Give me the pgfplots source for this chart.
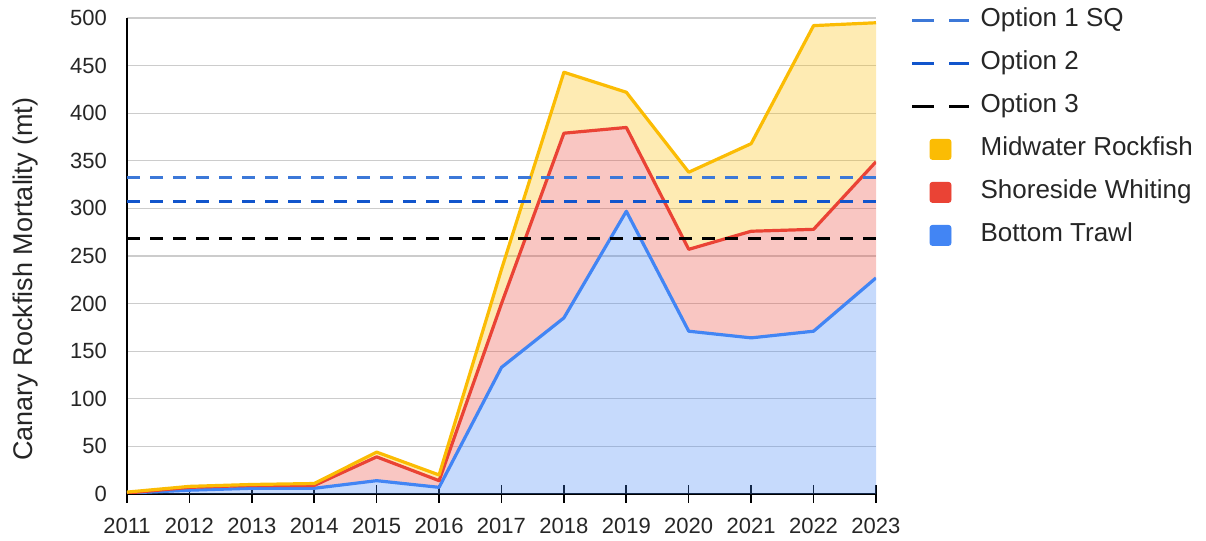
\documentclass[border=0pt]{standalone}
\usepackage{fontspec}
\setmainfont{Liberation Sans}
\usepackage{pgfplots}
\pgfplotsset{compat=1.18}
\usepgfplotslibrary{fillbetween}
\definecolor{cBlue}{HTML}{4285F4}
\definecolor{cRed}{HTML}{EA4335}
\definecolor{cYel}{HTML}{FBBC04}
\definecolor{cOpt1}{HTML}{3C78D8}
\definecolor{cOpt2}{HTML}{1155CC}
\definecolor{cGrid}{HTML}{CCCCCC}
\begin{document}
\begin{tikzpicture}
\begin{axis}[
  scale only axis,
  width=374.5pt, height=238pt,
  xmin=2011, xmax=2023, ymin=0, ymax=500,
  xtick={2011,...,2023},
  ytick={0,50,...,500},
  /pgf/number format/1000 sep={},
  /pgf/number format/assume math mode=true,
  axis x line*=bottom, axis y line*=left,
  axis line style={black, line width=1pt},
  x axis line style={-}, y axis line style={-},
  tick align=center,
  xtick style={black, line width=0.8pt},
  ytick style={draw=none},
  major tick length=9pt,
  ymajorgrids,
  grid style={cGrid, line width=0.6pt},
  tick label style={font=\fontsize{11pt}{12pt}\selectfont, text=black!85},
  xticklabel style={yshift=-4pt},
  yticklabel style={xshift=-2pt},
  ylabel={Canary Rockfish Mortality (mt)},
  ylabel style={font=\fontsize{13.5pt}{15pt}\selectfont, text=black!85, yshift=9pt, xshift=-11.5pt},
  legend style={at={(1,1)}, xshift=14pt, yshift=7pt, anchor=north west, draw=none, fill=none,
    font=\fontsize{13pt}{15pt}\selectfont, text=black!85,
    row sep=9.5pt, nodes={inner sep=0pt, text height=9pt, text depth=3pt}},
  legend cell align=left,
]
\pgfplotsset{
  lineimg/.style={legend image code/.code={\draw[##1] (0pt,0pt) -- (28.5pt,0pt);}},
  sqimg/.style={legend image code/.code={\fill[##1, rounded corners=1.2pt] (9pt,-5pt) rectangle (19.5pt,5pt);}},
}
\addlegendimage{cOpt1, line width=1.6pt, dash pattern=on 11pt off 7.5pt, lineimg}
\addlegendentry{\hspace{5pt}Option 1 SQ}
\addlegendimage{cOpt2, line width=1.6pt, dash pattern=on 11pt off 7.5pt, lineimg}
\addlegendentry{\hspace{5pt}Option 2}
\addlegendimage{black, line width=1.6pt, dash pattern=on 11pt off 7.5pt, lineimg}
\addlegendentry{\hspace{5pt}Option 3}
\addlegendimage{cYel, sqimg}
\addlegendentry{\hspace{5pt}Midwater Rockfish}
\addlegendimage{cRed, sqimg}
\addlegendentry{\hspace{5pt}Shoreside Whiting}
\addlegendimage{cBlue, sqimg}
\addlegendentry{\hspace{5pt}Bottom Trawl}

\addplot[draw=none, name path=Z, forget plot] coordinates {(2011,0) (2023,0)};
\addplot[draw=none, name path=B, forget plot] coordinates {
(2011,1) (2012,4) (2013,6) (2014,6) (2015,14) (2016,7) (2017,133)
(2018,185) (2019,297) (2020,171) (2021,164) (2022,171) (2023,227)};
\addplot[draw=none, name path=R, forget plot] coordinates {
(2011,1) (2012,7) (2013,9) (2014,9) (2015,39) (2016,14) (2017,200)
(2018,379) (2019,385) (2020,257) (2021,276) (2022,278) (2023,349)};
\addplot[draw=none, name path=Y, forget plot] coordinates {
(2011,2) (2012,8) (2013,10) (2014,11) (2015,44) (2016,20) (2017,236)
(2018,443) (2019,422) (2020,338) (2021,368) (2022,492) (2023,495)};
\addplot[cBlue, fill opacity=0.3, draw=none, forget plot] fill between[of=B and Z];
\addplot[cRed, fill opacity=0.3, draw=none, forget plot] fill between[of=R and B];
\addplot[cYel, fill opacity=0.3, draw=none, forget plot] fill between[of=Y and R];

\addplot[cBlue, line width=1.6pt, line join=round, forget plot] coordinates {
(2011,1) (2012,4) (2013,6) (2014,6) (2015,14) (2016,7) (2017,133)
(2018,185) (2019,297) (2020,171) (2021,164) (2022,171) (2023,227)};
\addplot[cRed, line width=1.6pt, line join=round, forget plot] coordinates {
(2011,1) (2012,7) (2013,9) (2014,9) (2015,39) (2016,14) (2017,200)
(2018,379) (2019,385) (2020,257) (2021,276) (2022,278) (2023,349)};
\addplot[cYel, line width=1.6pt, line join=round, forget plot] coordinates {
(2011,2) (2012,8) (2013,10) (2014,11) (2015,44) (2016,20) (2017,236)
(2018,443) (2019,422) (2020,338) (2021,368) (2022,492) (2023,495)};

\addplot[cOpt1, line width=1.5pt, dash pattern=on 6.5pt off 5pt, forget plot] coordinates {(2011,332) (2023,332)};
\addplot[cOpt2, line width=1.5pt, dash pattern=on 6.5pt off 5pt, forget plot] coordinates {(2011,307) (2023,307)};
\addplot[black, line width=1.5pt, dash pattern=on 6.5pt off 5pt, forget plot] coordinates {(2011,268) (2023,268)};

\coordinate (pa) at (rel axis cs:0,0);
\coordinate (pb) at (rel axis cs:1,1);
\end{axis}
\pgfresetboundingbox
\path[use as bounding box] ([shift={(-63.5pt,-23.5pt)}]pa) rectangle ([shift={(165pt,9pt)}]pb);
\end{tikzpicture}
\end{document}
